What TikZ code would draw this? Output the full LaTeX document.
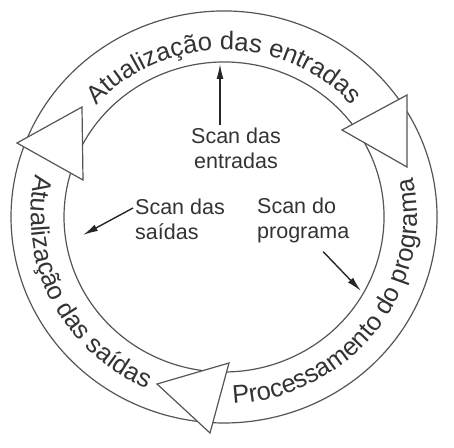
\documentclass[tikz,border=0pt]{standalone}
\usepackage{fontspec}
\setmainfont{Liberation Sans}
\usetikzlibrary{arrows.meta,decorations.text}

\definecolor{linegray}{HTML}{555555}
\definecolor{textgray}{HTML}{333333}

\newcommand\ringfont{\fontsize{25.5}{29}\selectfont}
\newcommand\scanfont{\fontsize{21.5}{25}\selectfont}

\tikzset{
  ringline/.style={draw=linegray, line width=1.2pt},
  ringhead/.style={draw=linegray, line width=1.2pt, fill=white, line join=miter},
  ringtext/.style={decorate, decoration={text along path, text align=center, text color=textgray}},
  scantext/.style={font=\scanfont, text=textgray, align=left, inner sep=2pt},
  scanarrow/.style={-{Latex[length=15pt,width=7pt]}, line width=1.4pt, draw=black!85},
}

\begin{document}
\begin{tikzpicture}[x=1pt, y=1pt]
    \useasboundingbox (0,0) rectangle (454,447);
    \coordinate (c) at (224,230);

    % Anel - bordas externa e interna de cada trecho
    \draw[ringline] ([shift={(158.5:213pt and 206pt)}]c) arc[start angle=158.5, end angle=33.5, x radius=213pt, y radius=206pt];
    \draw[ringline] ([shift={(153.5:160pt and 155pt)}]c) arc[start angle=153.5, end angle=35.5, x radius=160pt, y radius=155pt];
    \draw[ringline] ([shift={(32:213pt and 206pt)}]c) arc[start angle=32, end angle=-94.5, x radius=213pt, y radius=206pt];
    \draw[ringline] ([shift={(30:160pt and 155pt)}]c) arc[start angle=30, end angle=-90.5, x radius=160pt, y radius=155pt];
    \draw[ringline] ([shift={(159.5:213pt and 206pt)}]c) arc[start angle=159.5, end angle=263.5, x radius=213pt, y radius=206pt];
    \draw[ringline] ([shift={(162.5:160pt and 155pt)}]c) arc[start angle=162.5, end angle=263.5, x radius=160pt, y radius=155pt];

    % Pontas das setas do anel
    \draw[ringhead] (17,304) -- (82,340) -- (83,267) -- cycle;
    \draw[ringhead] (342,317) -- (407,352) -- (407,280) -- cycle;
    \draw[ringhead] (157,63) -- (229,84) -- (210,14) -- cycle;

    % Textos sobre o anel
    \path[ringtext, decoration={text={|\ringfont|Atualização das entradas}}]
        ([shift={(145:172pt and 167pt)}]c) arc[start angle=145, end angle=35, x radius=172pt, y radius=167pt];
    \path[ringtext, decoration={text={|\ringfont|Processamento do programa}}]
        ([shift={(-95:193pt and 187pt)}]c) arc[start angle=-95, end angle=20, x radius=193pt, y radius=187pt];
    \path[ringtext, decoration={text={|\ringfont|Atualização das saídas}}]
        ([shift={(160:193pt and 187pt)}]c) arc[start angle=160, end angle=253, x radius=193pt, y radius=187pt];

    % Etapas do scan
    \node[scantext, align=center] (scanent) at (236,299) {Scan das\\entradas};
    \node[scantext, anchor=west] (scansai) at (133,228) {Scan das\\saídas};
    \node[scantext, anchor=west] (scanprog) at (255,227) {Scan do\\programa};

    \coordinate (entin) at (220,383);
    \coordinate (saiin) at (83,212);
    \coordinate (progin) at (361,156);

    \draw[scanarrow] (scanent.north -| entin) -- (entin);
    \draw[scanarrow] ([yshift=11pt]scansai.west) -- (saiin);
    \draw[scanarrow] ([xshift=20pt,yshift=-7pt]scanprog.south) -- (progin);
\end{tikzpicture}
\end{document}
